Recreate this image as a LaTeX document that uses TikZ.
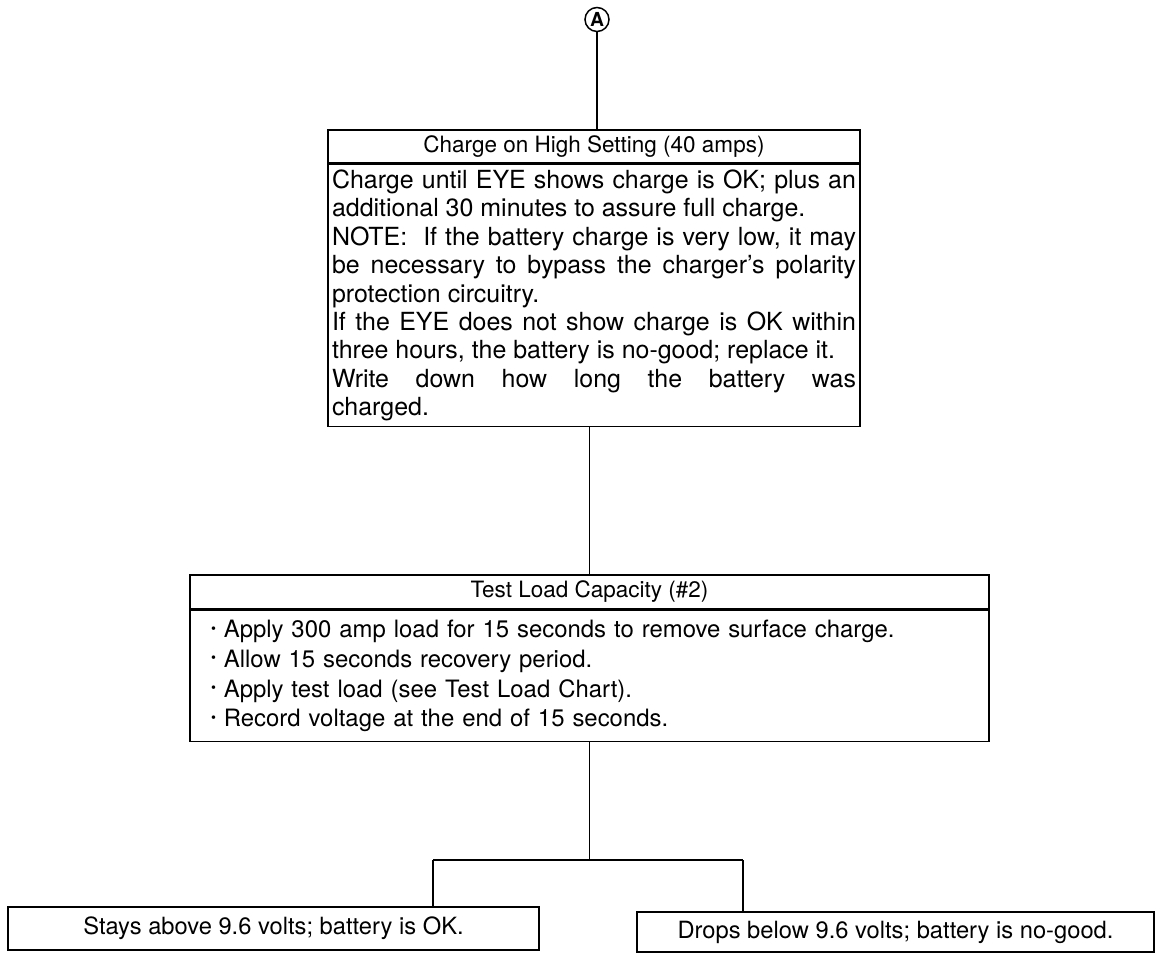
\documentclass[tikz,border=0pt]{standalone}
\usepackage{fontspec}
\setmainfont{TeX Gyre Heros}
\usetikzlibrary{positioning, calc}

\newcommand{\dotmark}{\raisebox{0.18em}{\fontsize{8}{8}\selectfont\textbullet}\ }

\tikzset{
  wire/.style={line width=0.85pt},
  headbox/.style={draw, line width=0.85pt, inner sep=0pt,
    font=\fontsize{12.8}{15}\selectfont},
  bodybox/.style={draw, line width=0.85pt, inner ysep=0.1cm, anchor=north},
  endbox/.style={draw, line width=0.85pt, inner sep=0pt,
    font=\fontsize{13.5}{16}\selectfont},
  tag/.style={draw, circle, line width=0.85pt, inner sep=0pt, minimum size=0.48cm,
    font=\fontsize{11}{11}\selectfont\bfseries}
}

\begin{document}
\begin{tikzpicture}
\useasboundingbox (0,0) rectangle (23.2,-19.12);

% entry mark
\node[tag] (A) at (11.94,-0.39) {A};

% charge step
\node[headbox, minimum width=10.64cm, minimum height=0.66cm] (chghead) at (11.88,-2.93)
  {Charge on High Setting (40 amps)};
\node[bodybox, text width=10.48cm, inner xsep=0.08cm, minimum height=4.88cm, align=justify,
  font=\fontsize{14.2}{16.2}\selectfont] (chgbody) at (chghead.south) {%
  Charge until EYE shows charge is OK; plus an\linebreak
  additional 30 minutes to assure full charge.\par
  NOTE:\ \ If the battery charge is very low, it may\linebreak
  be necessary to bypass the charger's polarity\linebreak
  protection circuitry.\par
  If the EYE does not show charge is OK within\linebreak
  three hours, the battery is no-good; replace it.\par
  Write down how long the battery was\linebreak
  charged.};

% load test
\node[headbox, minimum width=15.98cm, minimum height=0.68cm] (tlhead) at (11.79,-11.84)
  {Test Load Capacity (\#2)};
\node[bodybox, text width=15.14cm, inner xsep=0.42cm, minimum height=2.62cm, align=left,
  font=\fontsize{13.6}{17}\selectfont] (tlbody) at (tlhead.south) {%
  \dotmark Apply 300 amp load for 15 seconds to remove surface charge.\\
  \dotmark Allow 15 seconds recovery period.\\
  \dotmark Apply test load (see Test Load Chart).\\
  \dotmark Record voltage at the end of 15 seconds.};

% results
\node[endbox, minimum width=10.62cm, minimum height=0.86cm] (okbox) at (5.47,-18.57)
  {Stays above 9.6 volts; battery is OK.};
\node[endbox, minimum width=10.34cm, minimum height=0.8cm] (badbox) at (17.91,-18.64)
  {Drops below 9.6 volts; battery is no-good.};

% connectors
\coordinate (split) at (tlbody.south |- 0,-17.2);
\coordinate (lbranch) at (8.66,-17.2);
\coordinate (rbranch) at (14.86,-17.2);
\draw[wire] (A) -- (A |- chghead.north);
\draw[wire] (tlhead.north |- chgbody.south) -- (tlhead.north);
\draw[wire] (tlbody.south) -- (split);
\draw[wire] (lbranch) -- (rbranch);
\draw[wire] (lbranch) -- (lbranch |- okbox.north);
\draw[wire] (rbranch) -- (rbranch |- badbox.north);

\end{tikzpicture}
\end{document}
